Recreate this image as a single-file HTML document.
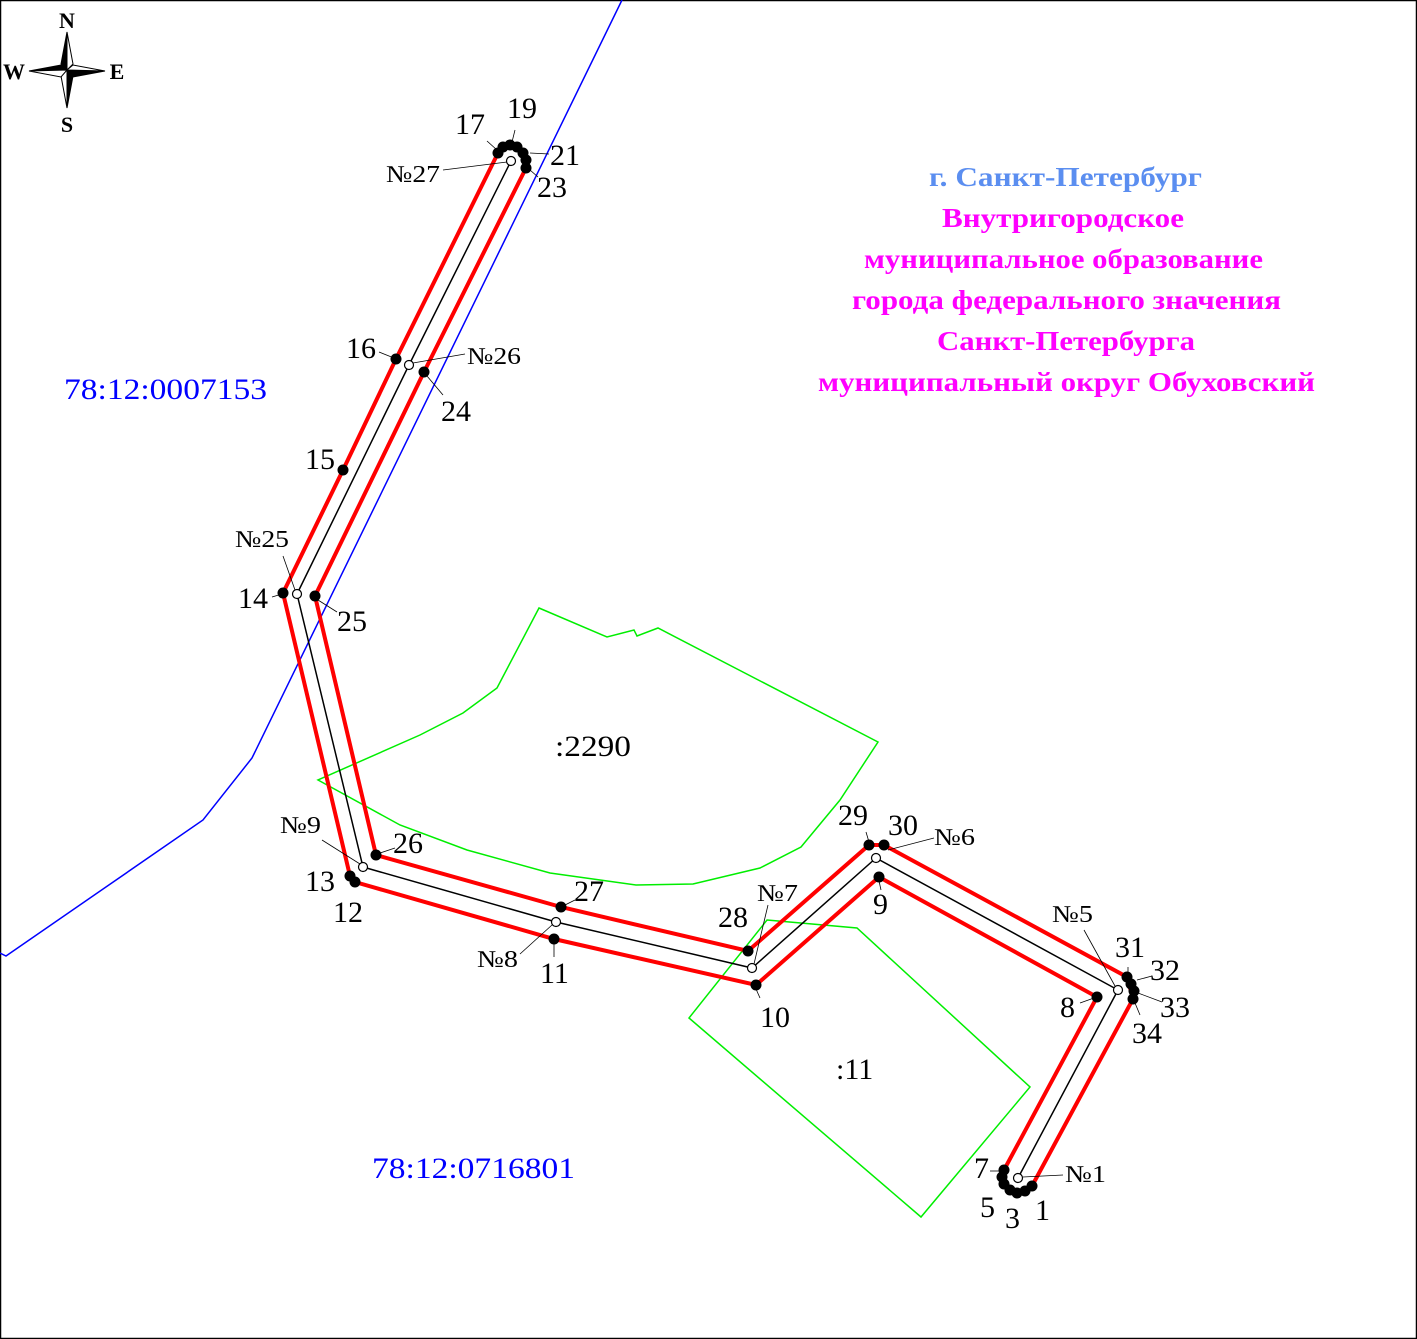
<!DOCTYPE html>
<html><head><meta charset="utf-8"><style>
html,body{margin:0;padding:0;background:#fff}
svg{display:block}
text{font-family:"Liberation Serif",serif}
</style></head><body>
<svg width="1417" height="1339" viewBox="0 0 1417 1339" xmlns="http://www.w3.org/2000/svg">
<rect x="0.5" y="0.5" width="1416" height="1338" fill="#fff" stroke="#000" stroke-width="1.5"/>
<g stroke="#000" stroke-width="1">
<polygon points="67,32 61,64 67,70" fill="#000"/><polygon points="67,32 73,64 67,70" fill="#fff"/>
<polygon points="67,108 73,76 67,70" fill="#000"/><polygon points="67,108 61,76 67,70" fill="#fff"/>
<polygon points="29,71 61,65 67,70" fill="#000"/><polygon points="29,71 61,77 67,70" fill="#fff"/>
<polygon points="105,71 73,77 67,70" fill="#000"/><polygon points="105,71 73,65 67,70" fill="#fff"/>
</g>
<g font-weight="bold" font-size="22" text-anchor="middle">
<text x="67" y="28">N</text><text x="67" y="132">S</text><text x="14" y="79">W</text><text x="117" y="79">E</text>
</g>
<polyline points="622,0 252,758 203,820 6,956 0,953" fill="none" stroke="#0000ff" stroke-width="1.5"/>
<g fill="none" stroke="#00ee00" stroke-width="1.5">
<polygon points="539,608 607,637 634,630 637,636 658,628 878,742 840,800 801,847 760,868 693,884 636,885 550,873 467,850 400,825 318,780 420,735 463,713 497,688"/>
<polygon points="767,920 857,928 1030,1087 921,1217 689,1018"/>
</g>
<polyline points="511,161 409,365 297,594 363,867 556,922 752,968 876,858 1118,990 1018,1178" fill="none" stroke="#000" stroke-width="1.5"/>
<g fill="none" stroke="#ff0000" stroke-width="4">
<polyline points="498,153 396,359 343,470 283,593 350,876 355,882 554,939 756,985 879,877 1097,997 1004,1170"/>
<polyline points="526,168 424,372 315,596 376,855 561,907 748,951 869,845 884,845 1127,977 1133,999 1032,1186"/>
</g>
<g fill="#000">
<circle cx="498" cy="153" r="5.5"/><circle cx="503" cy="147" r="5.5"/><circle cx="510" cy="145" r="5.5"/><circle cx="517" cy="147" r="5.5"/><circle cx="523" cy="153" r="5.5"/><circle cx="526" cy="160" r="5.5"/><circle cx="526" cy="168" r="5.5"/>
<circle cx="396" cy="359" r="5.5"/><circle cx="424" cy="372" r="5.5"/><circle cx="343" cy="470" r="5.5"/><circle cx="283" cy="593" r="5.5"/><circle cx="315" cy="596" r="5.5"/>
<circle cx="376" cy="855" r="5.5"/><circle cx="350" cy="876" r="5.5"/><circle cx="355" cy="882" r="5.5"/>
<circle cx="561" cy="907" r="5.5"/><circle cx="554" cy="939" r="5.5"/><circle cx="748" cy="951" r="5.5"/><circle cx="756" cy="985" r="5.5"/>
<circle cx="869" cy="845" r="5.5"/><circle cx="884" cy="845" r="5.5"/><circle cx="879" cy="877" r="5.5"/>
<circle cx="1097" cy="997" r="5.5"/><circle cx="1127" cy="977" r="5.5"/><circle cx="1131" cy="984" r="5.5"/><circle cx="1134" cy="991" r="5.5"/><circle cx="1133" cy="999" r="5.5"/>
<circle cx="1032" cy="1186" r="5.5"/><circle cx="1025" cy="1191" r="5.5"/><circle cx="1017" cy="1193" r="5.5"/><circle cx="1010" cy="1190" r="5.5"/><circle cx="1004" cy="1184" r="5.5"/><circle cx="1002" cy="1177" r="5.5"/><circle cx="1004" cy="1170" r="5.5"/>
</g>
<g fill="#fff" stroke="#000" stroke-width="1.2">
<circle cx="511" cy="161" r="4.5"/><circle cx="409" cy="365" r="4.5"/><circle cx="297" cy="594" r="4.5"/><circle cx="363" cy="867" r="4.5"/><circle cx="556" cy="922" r="4.5"/><circle cx="752" cy="968" r="4.5"/><circle cx="876" cy="858" r="4.5"/><circle cx="1118" cy="990" r="4.5"/><circle cx="1018" cy="1178" r="4.5"/>
</g>
<g stroke="#000" stroke-width="0.8">
<line x1="443" y1="170" x2="507" y2="162"/><line x1="487" y1="141" x2="497" y2="150"/><line x1="515" y1="130" x2="512" y2="142"/><line x1="530" y1="153" x2="549" y2="154"/><line x1="530" y1="170" x2="538" y2="177"/>
<line x1="379" y1="352" x2="394" y2="358"/><line x1="413" y1="363" x2="465" y2="354"/><line x1="427" y1="376" x2="443" y2="395"/>
<line x1="283" y1="556" x2="295" y2="590"/><line x1="272" y1="597" x2="282" y2="594"/><line x1="318" y1="600" x2="337" y2="612"/>
<line x1="380" y1="853" x2="395" y2="848"/><line x1="322" y1="840" x2="360" y2="864"/>
<line x1="565" y1="905" x2="575" y2="900"/><line x1="520" y1="954" x2="552" y2="925"/><line x1="554" y1="943" x2="554" y2="957"/>
<line x1="768" y1="905" x2="754" y2="964"/><line x1="756" y1="989" x2="760" y2="998"/>
<line x1="866" y1="832" x2="869" y2="842"/><line x1="888" y1="850" x2="934" y2="838"/><line x1="879" y1="881" x2="881" y2="890"/>
<line x1="1084" y1="930" x2="1115" y2="986"/><line x1="1128" y1="972" x2="1128" y2="967"/><line x1="1137" y1="980" x2="1152" y2="976"/><line x1="1138" y1="993" x2="1162" y2="1002"/><line x1="1135" y1="1003" x2="1140" y2="1015"/>
<line x1="1080" y1="1003" x2="1094" y2="998"/><line x1="990" y1="1171" x2="999" y2="1171"/><line x1="1023" y1="1177" x2="1063" y2="1175"/>
</g>
<g font-size="30" fill="#000">
<text x="455" y="134">17</text><text x="507" y="118">19</text><text x="550" y="165">21</text><text x="537" y="197">23</text>
<text x="346" y="358">16</text><text x="441" y="421">24</text><text x="305" y="469">15</text>
<text x="238" y="608">14</text><text x="337" y="631">25</text>
<text x="393" y="853">26</text><text x="305" y="891">13</text><text x="333" y="922">12</text>
<text x="574" y="901">27</text><text x="540" y="983">11</text>
<text x="718" y="927">28</text><text x="760" y="1027">10</text>
<text x="838" y="825">29</text><text x="888" y="835">30</text><text x="873" y="914">9</text>
<text x="1115" y="957">31</text><text x="1150" y="980">32</text><text x="1160" y="1017">33</text><text x="1132" y="1043">34</text>
<text x="1060" y="1017">8</text><text x="974" y="1178">7</text><text x="980" y="1217">5</text><text x="1005" y="1228">3</text><text x="1035" y="1220">1</text>
</g>
<g font-size="24" fill="#000" lengthAdjust="spacingAndGlyphs">
<text x="386" y="182" textLength="54" lengthAdjust="spacingAndGlyphs">№27</text>
<text x="467" y="364" textLength="54" lengthAdjust="spacingAndGlyphs">№26</text>
<text x="235" y="547" textLength="54" lengthAdjust="spacingAndGlyphs">№25</text>
<text x="280" y="833" textLength="41" lengthAdjust="spacingAndGlyphs">№9</text>
<text x="477" y="967" textLength="41" lengthAdjust="spacingAndGlyphs">№8</text>
<text x="757" y="901" textLength="41" lengthAdjust="spacingAndGlyphs">№7</text>
<text x="934" y="845" textLength="41" lengthAdjust="spacingAndGlyphs">№6</text>
<text x="1052" y="922" textLength="41" lengthAdjust="spacingAndGlyphs">№5</text>
<text x="1065" y="1182" textLength="41" lengthAdjust="spacingAndGlyphs">№1</text>
</g>
<g font-size="30" fill="#000">
<text x="555" y="756" textLength="76" lengthAdjust="spacingAndGlyphs">:2290</text><text x="836" y="1079">:11</text>
</g>
<g font-size="30" fill="#0000ff">
<text x="64" y="399" textLength="203" lengthAdjust="spacingAndGlyphs">78:12:0007153</text>
<text x="372" y="1178" textLength="203" lengthAdjust="spacingAndGlyphs">78:12:0716801</text>
</g>
<g font-size="27" font-weight="bold" fill="#ff00ff">
<text x="929" y="186" fill="#5b8ef0" textLength="273" lengthAdjust="spacingAndGlyphs">г. Санкт-Петербург</text>
<text x="942" y="227" textLength="242" lengthAdjust="spacingAndGlyphs">Внутригородское</text>
<text x="864" y="268" textLength="399" lengthAdjust="spacingAndGlyphs">муниципальное образование</text>
<text x="852" y="309" textLength="429" lengthAdjust="spacingAndGlyphs">города федерального значения</text>
<text x="937" y="350" textLength="258" lengthAdjust="spacingAndGlyphs">Санкт-Петербурга</text>
<text x="818" y="391" textLength="497" lengthAdjust="spacingAndGlyphs">муниципальный округ Обуховский</text>
</g>
</svg>
</body></html>
